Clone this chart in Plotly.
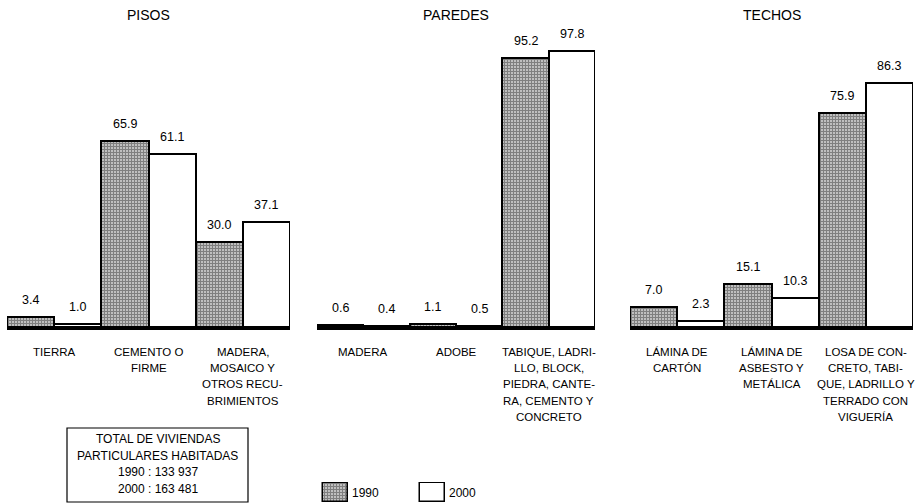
import plotly.graph_objects as go

# ---- data ----
panel_titles = ["PISOS", "PAREDES", "TECHOS"]
pisos_cats = ["TIERRA", "CEMENTO O<br>FIRME", "MADERA,<br>MOSAICO Y<br>OTROS RECU-<br>BRIMIENTOS"]
pisos_1990 = [3.4, 65.9, 30.0]
pisos_2000 = [1.0, 61.1, 37.1]
paredes_cats = ["MADERA", "ADOBE", "TABIQUE, LADRI-<br>LLO, BLOCK,<br>PIEDRA, CANTE-<br>RA, CEMENTO Y<br>CONCRETO"]
paredes_1990 = [0.6, 1.1, 95.2]
paredes_2000 = [0.4, 0.5, 97.8]
techos_cats = ["LÁMINA DE<br>CARTÓN", "LÁMINA DE<br>ASBESTO Y<br>METÁLICA", "LOSA DE CON-<br>CRETO, TABI-<br>QUE, LADRILLO Y<br>TERRADO CON<br>VIGUERÍA"]
techos_1990 = [7.0, 15.1, 75.9]
techos_2000 = [2.3, 10.3, 86.3]
series_names = ["1990", "2000"]
box_lines = ["TOTAL DE VIVIENDAS", "PARTICULARES HABITADAS", "1990 : 133 937", "2000 : 163 481"]

panels = [
    (pisos_cats, pisos_1990, pisos_2000),
    (paredes_cats, paredes_1990, paredes_2000),
    (techos_cats, techos_1990, techos_2000),
]

# ---- layout helpers (pixel geometry) ----
W, H = 924, 504
def px(x):
    return x / W
def py(y):
    return 1 - y / H

x_domains_px = [(7, 290), (317, 595), (630, 913)]
base_px, top_px = 327, 40
scale = 2.825
y_dom = [py(base_px), py(top_px)]
y_max = (base_px - top_px) / scale

FONT = "Liberation Sans, Arial, sans-serif"
pat_1990 = dict(shape="+", fgcolor="black", bgcolor="white", size=3, solidity=0.8)

fig = go.Figure()
annotations = []

for k, (cats, v90, v00) in enumerate(panels):
    xa = "x" if k == 0 else f"x{k+1}"
    ya = "y" if k == 0 else f"y{k+1}"
    idx = list(range(len(cats)))
    fig.add_trace(go.Bar(
        x=idx, y=v90, name=series_names[0], xaxis=xa, yaxis=ya,
        marker=dict(color="black", pattern=pat_1990, line=dict(color="black", width=2)),
        showlegend=False, hoverinfo="skip",
    ))
    fig.add_trace(go.Bar(
        x=idx, y=v00, name=series_names[1], xaxis=xa, yaxis=ya,
        marker=dict(color="white", line=dict(color="black", width=2)),
        showlegend=False, hoverinfo="skip",
    ))
    axn = "" if k == 0 else str(k + 1)
    d0, d1 = x_domains_px[k]
    fig.update_layout(**{
        f"xaxis{axn}": dict(domain=[px(d0), px(d1)], range=[-0.5, len(cats) - 0.5],
                            anchor=ya, showgrid=False, zeroline=False, showticklabels=False,
                            ticks="", showline=True, linecolor="black", linewidth=2.5),
        f"yaxis{axn}": dict(domain=y_dom, range=[0, y_max], anchor=xa,
                            visible=False, showgrid=False, zeroline=False),
    })
    # panel title
    annotations.append(dict(text=panel_titles[k], xref="paper", yref="paper",
                            x=px((d0 + d1) / 2), y=py(15), showarrow=False,
                            xanchor="center", yanchor="middle",
                            font=dict(size=14, family=FONT, color="black")))
    # value labels
    for i in idx:
        for off, val in ((-0.25, v90[i]), (0.25, v00[i])):
            annotations.append(dict(text=f"{val:.1f}", xref=xa, yref=ya, x=i + off, y=val,
                                    showarrow=False, xanchor="center", yanchor="bottom",
                                    yshift=8, font=dict(size=12.5, family=FONT, color="black")))
    # category labels, line by line
    for i, c in enumerate(cats):
        for j, line in enumerate(c.split("<br>")):
            annotations.append(dict(text=line, xref=xa, yref="paper", x=i,
                                    y=py(351.5 + j * 16.4), showarrow=False,
                                    xanchor="center", yanchor="middle",
                                    font=dict(size=11.5, family=FONT, color="black")))

# ---- legend as small bar subplot ----
leg_idx = [0, 1]
fig.add_trace(go.Bar(x=[0], y=[1], xaxis="x4", yaxis="y4", width=0.26,
                     marker=dict(color="black", pattern=pat_1990, line=dict(color="black", width=1.5)),
                     showlegend=False, hoverinfo="skip"))
fig.add_trace(go.Bar(x=[1], y=[1], xaxis="x4", yaxis="y4", width=0.26,
                     marker=dict(color="white", line=dict(color="black", width=1.5)),
                     showlegend=False, hoverinfo="skip"))
fig.update_layout(
    xaxis4=dict(domain=[px(287), px(481)], range=[-0.5, 1.5], anchor="y4", visible=False),
    yaxis4=dict(domain=[py(503), py(482)], range=[-0.06, 1.06], anchor="x4", visible=False),
)
for i, nm in zip(leg_idx, series_names):
    annotations.append(dict(text=nm, xref="x4", yref="y4", x=i + 0.145, y=0.45,
                            showarrow=False, xanchor="left", yanchor="middle",
                            font=dict(size=12, family=FONT, color="black")))

# ---- total box ----
shapes = [dict(type="rect", xref="paper", yref="paper", x0=px(67), x1=px(248),
               y0=py(502), y1=py(428), line=dict(color="black", width=1.2))]
for j, line in enumerate(box_lines):
    annotations.append(dict(text=line, xref="paper", yref="paper", x=px(157.5),
                            y=py(439 + j * 16.7), showarrow=False, xanchor="center",
                            yanchor="middle", font=dict(size=12, family=FONT, color="black")))

fig.update_layout(
    width=W, height=H, margin=dict(l=0, r=0, t=0, b=0),
    paper_bgcolor="white", plot_bgcolor="white",
    barmode="group", bargap=0, bargroupgap=0,
    annotations=annotations, shapes=shapes, showlegend=False,
)

fig.write_html("out.html", config={"displayModeBar": False},
               post_script="document.body.style.margin='0';document.body.style.padding='0';")
